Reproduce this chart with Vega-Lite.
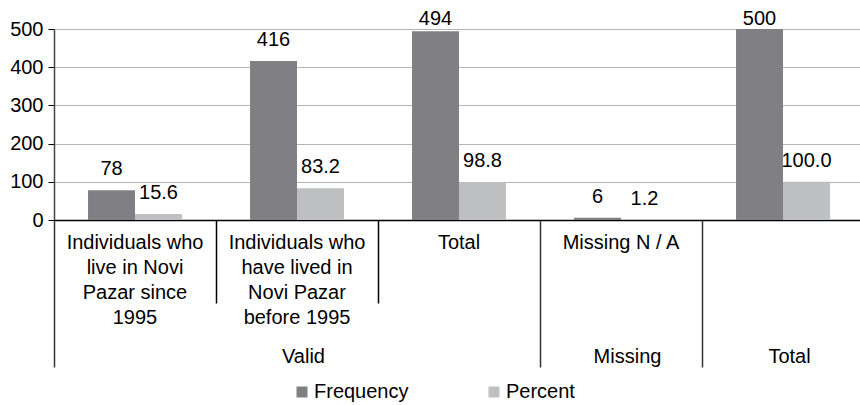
{
  "$schema": "https://vega.github.io/schema/vega-lite/v6.json",
  "width": 806,
  "height": 191,
  "autosize": "none",
  "padding": {"left": 54, "top": 29, "right": 0, "bottom": 185},
  "background": "white",
  "config": {
    "view": {"stroke": null},
    "font": "Liberation Sans",
    "axis": {"labelColor": "#000", "labelFont": "Liberation Sans", "title": null}
  },
  "datasets": {
    "main": [
      {"category": "Individuals who live in Novi Pazar since 1995", "series": "Frequency", "value": 78, "label": "78"},
      {"category": "Individuals who live in Novi Pazar since 1995", "series": "Percent", "value": 15.6, "label": "15.6"},
      {"category": "Individuals who have lived in Novi Pazar before 1995", "series": "Frequency", "value": 416, "label": "416"},
      {"category": "Individuals who have lived in Novi Pazar before 1995", "series": "Percent", "value": 83.2, "label": "83.2"},
      {"category": "Valid Total", "series": "Frequency", "value": 494, "label": "494"},
      {"category": "Valid Total", "series": "Percent", "value": 98.8, "label": "98.8"},
      {"category": "Missing N / A", "series": "Frequency", "value": 6, "label": "6"},
      {"category": "Missing N / A", "series": "Percent", "value": 1.2, "label": "1.2"},
      {"category": "Total", "series": "Frequency", "value": 500, "label": "500"},
      {"category": "Total", "series": "Percent", "value": 100, "label": "100.0"}
    ],
    "groups": [
      {"group": "Valid", "start": 0, "end": 3, "mid": 1.5},
      {"group": "Missing", "start": 3, "end": 4, "mid": 3.5},
      {"group": "Total", "start": 4, "end": 5, "mid": 4.5}
    ],
    "inner": [
      {"boundary": 1},
      {"boundary": 2}
    ]
  },
  "layer": [
    {
      "data": {"name": "main"},
      "encoding": {
        "x": {
          "field": "category",
          "type": "nominal",
          "sort": null,
          "scale": {"range": [0, 810], "paddingInner": 0.42, "paddingOuter": 0.21},
          "axis": {
            "orient": "bottom",
            "labelAngle": 0,
            "ticks": false,
            "grid": false,
            "domain": true,
            "domainColor": "#000",
            "domainWidth": 1.5,
            "labelFontSize": 20,
            "labelLineHeight": 25,
            "labelBaseline": "top",
            "labelPadding": 12,
            "labelLimit": 0,
            "labelExpr": "datum.value === 'Individuals who live in Novi Pazar since 1995' ? ['Individuals who', 'live in Novi', 'Pazar since', '1995'] : datum.value === 'Individuals who have lived in Novi Pazar before 1995' ? ['Individuals who', 'have lived in', 'Novi Pazar', 'before 1995'] : datum.value === 'Valid Total' ? 'Total' : datum.value === 'Missing N / A' ? 'Missing N / A' : ''"
          }
        },
        "xOffset": {"field": "series", "type": "nominal", "scale": {"paddingInner": 0, "paddingOuter": 0}}
      },
      "layer": [
        {
          "mark": {"type": "bar"},
          "encoding": {
            "y": {
              "field": "value",
              "type": "quantitative",
              "scale": {"domain": [0, 500], "nice": false},
              "axis": {
                "values": [0, 100, 200, 300, 400, 500],
                "grid": true,
                "gridColor": "#b5b5b5",
                "gridWidth": 1.2,
                "domainColor": "#444",
                "domainWidth": 1.5,
                "tickColor": "#000",
                "tickSize": 6,
                "labelFontSize": 20,
                "labelPadding": 5
              }
            },
            "color": {
              "field": "series",
              "type": "nominal",
              "scale": {"domain": ["Frequency", "Percent"], "range": ["#808084", "#bebfc1"]},
              "legend": {
                "title": null,
                "orient": "none",
                "direction": "horizontal",
                "legendX": 238,
                "legendY": 353,
                "symbolType": "square",
                "symbolSize": 121,
                "symbolStrokeWidth": 0,
                "labelFontSize": 20,
                "labelColor": "#000",
                "labelOffset": 2,
                "columnPadding": 75
              }
            }
          }
        },
        {
          "transform": [{"calculate": "min(datum.value, 471)", "as": "labelPos"}],
          "mark": {"type": "text", "baseline": "alphabetic", "dy": -15, "fontSize": 20, "color": "#000"},
          "encoding": {
            "y": {"field": "labelPos", "type": "quantitative", "axis": null},
            "text": {"field": "label", "type": "nominal"}
          }
        }
      ],
      "resolve": {"axis": {"y": "independent"}}
    },
    {
      "data": {"name": "inner"},
      "mark": {"type": "rule", "opacity": 0},
      "encoding": {
        "x": {
          "field": "boundary",
          "type": "quantitative",
          "scale": {"domain": [0, 5], "range": [0, 810], "nice": false, "zero": false},
          "axis": {
            "orient": "bottom",
            "values": [1, 2],
            "labels": false,
            "domain": false,
            "grid": false,
            "tickSize": 83,
            "tickColor": "#000",
            "tickWidth": 1.5
          }
        }
      }
    },
    {
      "data": {"name": "groups"},
      "mark": {"type": "rule", "opacity": 0},
      "encoding": {
        "x": {
          "field": "start",
          "type": "quantitative",
          "scale": {"domain": [0, 5], "range": [0, 810], "nice": false, "zero": false},
          "axis": {
            "orient": "bottom",
            "values": [0, 3, 4],
            "labels": false,
            "domain": false,
            "grid": false,
            "tickSize": 147,
            "tickColor": "#333",
            "tickWidth": 1.5
          }
        }
      }
    },
    {
      "data": {"name": "groups"},
      "mark": {"type": "rule", "opacity": 0},
      "encoding": {
        "x": {
          "field": "mid",
          "type": "quantitative",
          "scale": {"domain": [0, 5], "range": [0, 810], "nice": false, "zero": false},
          "axis": {
            "orient": "bottom",
            "values": [1.5, 3.5, 4.5],
            "ticks": false,
            "domain": false,
            "grid": false,
            "labelFontSize": 20,
            "labelBaseline": "top",
            "labelPadding": 126,
            "labelOffset": 6,
            "labelExpr": "datum.value == 1.5 ? 'Valid' : datum.value == 3.5 ? 'Missing' : 'Total'"
          }
        }
      }
    }
  ],
  "resolve": {"scale": {"x": "independent"}, "axis": {"x": "independent"}}
}
